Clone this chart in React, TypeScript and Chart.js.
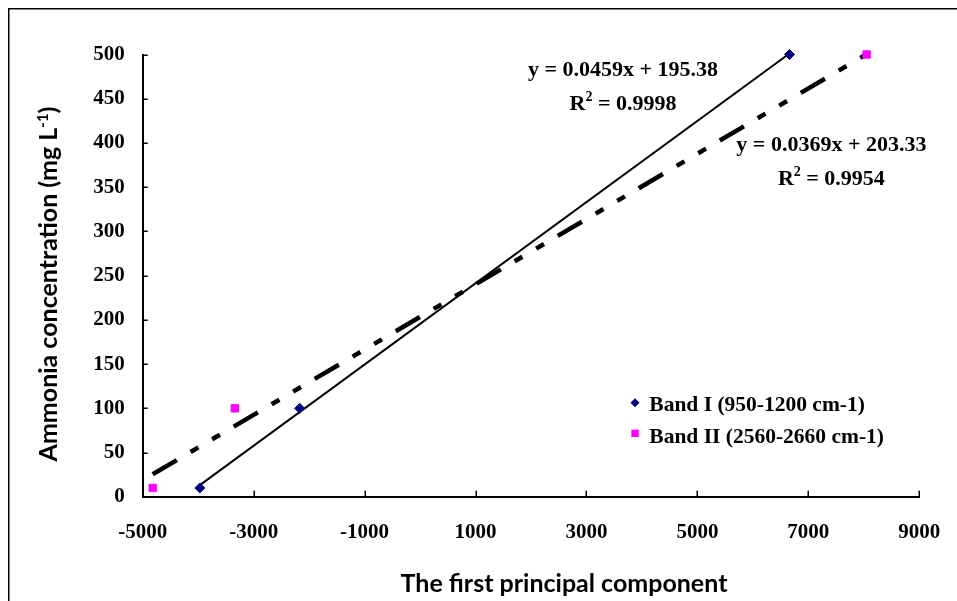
import React, { useEffect, useRef } from "react";
import { Chart, registerables } from "chart.js";

Chart.register(...registerables);

// ---- data ----
const bandIX = [-3970, -2170, 6660];
const bandIY = [10, 100, 500];
const bandIIX = [-4820, -3340, 8050];
const bandIIY = [10, 100, 500];

const seriesNames = ["Band I (950-1200 cm-1)", "Band II (2560-2660 cm-1)"];
const seriesColors = ["#000080", "#FF00FF"];

// trendline equations printed on the chart
const fitSlopes = [0.0459, 0.0369];
const fitIntercepts = [195.38, 203.33];
const fitR2 = ["0.9998", "0.9954"];

// equation label anchors (data coordinates: centre x, baseline y of first line)
const eqAnchorX = [3660, 7415];
const eqAnchorY = [475.7, 391];

const xMin = -5000;
const xMax = 9000;
const xStep = 2000;
const yMin = 0;
const yMax = 500;
const yStep = 50;

const xTitle = "The first principal component";
const yTitleMain = "Ammonia concentration (mg L";
const yTitleSup = "-1";
const yTitleEnd = ")";

const SERIF = '"Liberation Serif", "Times New Roman", serif';
const SANS = 'Lato, "Open Sans", sans-serif';

const W = 949;
const H = 593;

function fmtEq(i: number) {
  return `y = ${fitSlopes[i].toFixed(4)}x + ${fitIntercepts[i].toFixed(2)}`;
}

const decorPlugin = {
  id: "decor",
  afterDraw(chart: any) {
    const ctx = chart.ctx as CanvasRenderingContext2D;
    const xs = chart.scales.x;
    const ys = chart.scales.y;
    const ca = chart.chartArea;
    ctx.save();

    // outer frame (left and top visible)
    ctx.strokeStyle = "#000";
    ctx.lineWidth = 1.5;
    ctx.beginPath();
    ctx.moveTo(0.75, H + 5);
    ctx.lineTo(0.75, 0.75);
    ctx.lineTo(W + 5, 0.75);
    ctx.stroke();

    // inside tick marks
    ctx.lineWidth = 1.5;
    ctx.beginPath();
    xs.ticks.forEach((t: any) => {
      const px = Math.round(xs.getPixelForValue(t.value)) + 0.25;
      if (t.value === xMin) return;
      ctx.moveTo(px, ca.bottom);
      ctx.lineTo(px, ca.bottom - 6);
    });
    ys.ticks.forEach((t: any) => {
      const py = Math.round(ys.getPixelForValue(t.value)) + 0.25;
      if (t.value === yMin) return;
      ctx.moveTo(ca.left, py);
      ctx.lineTo(ca.left + 5, py);
    });
    ctx.stroke();

    // equation labels
    ctx.fillStyle = "#000";
    ctx.textBaseline = "alphabetic";
    for (let i = 0; i < 2; i++) {
      const cx = xs.getPixelForValue(eqAnchorX[i]);
      const by = ys.getPixelForValue(eqAnchorY[i]);
      ctx.font = `bold 22px ${SERIF}`;
      ctx.textAlign = "center";
      ctx.fillText(fmtEq(i), cx, by);
      // R^2 line
      const p1 = "R";
      const p3 = ` = ${fitR2[i]}`;
      ctx.font = `bold 22px ${SERIF}`;
      const w1 = ctx.measureText(p1).width;
      const w3 = ctx.measureText(p3).width;
      ctx.font = `bold 14px ${SERIF}`;
      const w2 = ctx.measureText("2").width;
      const total = w1 + w2 + w3;
      const x0 = cx - total / 2;
      const by2 = by + 34;
      ctx.textAlign = "left";
      ctx.font = `bold 22px ${SERIF}`;
      ctx.fillText(p1, x0, by2);
      ctx.font = `bold 14px ${SERIF}`;
      ctx.fillText("2", x0 + w1, by2 - 9);
      ctx.font = `bold 22px ${SERIF}`;
      ctx.fillText(p3, x0 + w1 + w2, by2);
    }

    // legend
    const lgX = 627;
    const lgY = [394.7, 425.3];
    const lgTextX = 641.3;
    const lgBase = [402.7, 435.3];
    for (let i = 0; i < 2; i++) {
      ctx.fillStyle = seriesColors[i];
      ctx.beginPath();
      if (i === 0) {
        ctx.moveTo(lgX, lgY[i] - 4.5);
        ctx.lineTo(lgX + 4.5, lgY[i]);
        ctx.lineTo(lgX, lgY[i] + 4.5);
        ctx.lineTo(lgX - 4.5, lgY[i]);
        ctx.closePath();
      } else {
        ctx.rect(lgX - 3.7, lgY[i] - 3.7, 7.4, 7.4);
      }
      ctx.fill();
      ctx.fillStyle = "#000";
      ctx.font = `bold 21.5px ${SERIF}`;
      ctx.textAlign = "left";
      ctx.fillText(seriesNames[i], lgTextX, lgBase[i]);
    }

    // x axis title
    ctx.font = `bold 25px ${SANS}`;
    ctx.textAlign = "center";
    ctx.fillText(xTitle, 556, 583.7);

    // y axis title (rotated)
    ctx.translate(49, 276);
    ctx.rotate(-Math.PI / 2);
    ctx.font = `bold 25px ${SANS}`;
    const a = ctx.measureText(yTitleMain).width;
    const c = ctx.measureText(yTitleEnd).width;
    ctx.font = `bold 15px ${SANS}`;
    const b = ctx.measureText(yTitleSup).width;
    const tot = a + b + c;
    const sx = -tot / 2;
    ctx.textAlign = "left";
    ctx.font = `bold 25px ${SANS}`;
    ctx.fillText(yTitleMain, sx, 0);
    ctx.font = `bold 15px ${SANS}`;
    ctx.fillText(yTitleSup, sx + a, -9);
    ctx.font = `bold 25px ${SANS}`;
    ctx.fillText(yTitleEnd, sx + a + b, 0);

    ctx.restore();
  },
};

export default function App() {
  const ref = useRef<HTMLCanvasElement | null>(null);

  useEffect(() => {
    if (!ref.current) return;
    const ptsI = bandIX.map((x, i) => ({ x, y: bandIY[i] }));
    const ptsII = bandIIX.map((x, i) => ({ x, y: bandIIY[i] }));
    const trend = (xsArr: number[], i: number) => {
      const lo = Math.min(...xsArr);
      const hi = Math.max(...xsArr);
      return [
        { x: lo, y: fitSlopes[i] * lo + fitIntercepts[i] },
        { x: hi, y: fitSlopes[i] * hi + fitIntercepts[i] },
      ];
    };

    const chart = new Chart(ref.current, {
      type: "scatter",
      data: {
        datasets: [
          {
            label: seriesNames[0],
            data: ptsI,
            pointStyle: "rectRot",
            pointRadius: 5,
            backgroundColor: seriesColors[0],
            borderColor: seriesColors[0],
            borderWidth: 1,
            clip: false,
          },
          {
            label: seriesNames[1],
            data: ptsII,
            pointStyle: "rect",
            pointRadius: 5.2,
            backgroundColor: seriesColors[1],
            borderColor: seriesColors[1],
            borderWidth: 1,
            clip: false,
          },
          {
            label: "trend I",
            data: trend(bandIX, 0),
            showLine: true,
            borderColor: "#000",
            borderWidth: 2,
            pointRadius: 0,
            fill: false,
            clip: false,
          },
          {
            label: "trend II",
            data: trend(bandIIX, 1),
            showLine: true,
            borderColor: "#000",
            borderWidth: 4.5,
            borderDash: [28, 16, 9, 16, 9, 16],
            borderCapStyle: "butt",
            pointRadius: 0,
            fill: false,
            clip: false,
          },
        ],
      },
      options: {
        animation: false,
        responsive: false,
        devicePixelRatio: 1,
        layout: { autoPadding: false, padding: { left: 0, top: 46.5, right: 37.7, bottom: 0 } },
        plugins: {
          legend: { display: false },
          tooltip: { enabled: false },
        },
        scales: {
          x: {
            type: "linear",
            min: xMin,
            max: xMax,
            grid: { display: false, drawTicks: false },
            border: { display: true, color: "#000", width: 2 },
            ticks: {
              stepSize: xStep,
              padding: 15,
              color: "#000",
              font: { family: SERIF, size: 21, weight: "bold", lineHeight: 1.95 },
              callback: (v: any) => String(v),
              maxRotation: 0,
            },
            afterFit: (s: any) => {
              s.height = 104.2;
            },
          },
          y: {
            type: "linear",
            min: yMin,
            max: yMax,
            grid: { display: false, drawTicks: false },
            border: { display: true, color: "#000", width: 2 },
            ticks: {
              stepSize: yStep,
              padding: 18,
              color: "#000",
              font: { family: SERIF, size: 21, weight: "bold" },
              callback: (v: any) => String(v),
            },
            afterFit: (s: any) => {
              s.width = 134.7;
            },
          },
        },
      },
      plugins: [decorPlugin],
    } as any);

    return () => chart.destroy();
  }, []);

  return (
    <div style={{ position: "fixed", left: 8, top: 8, width: W, height: H }}>
      <canvas ref={ref} width={W} height={H} style={{ width: W, height: H, display: "block" }} />
    </div>
  );
}
